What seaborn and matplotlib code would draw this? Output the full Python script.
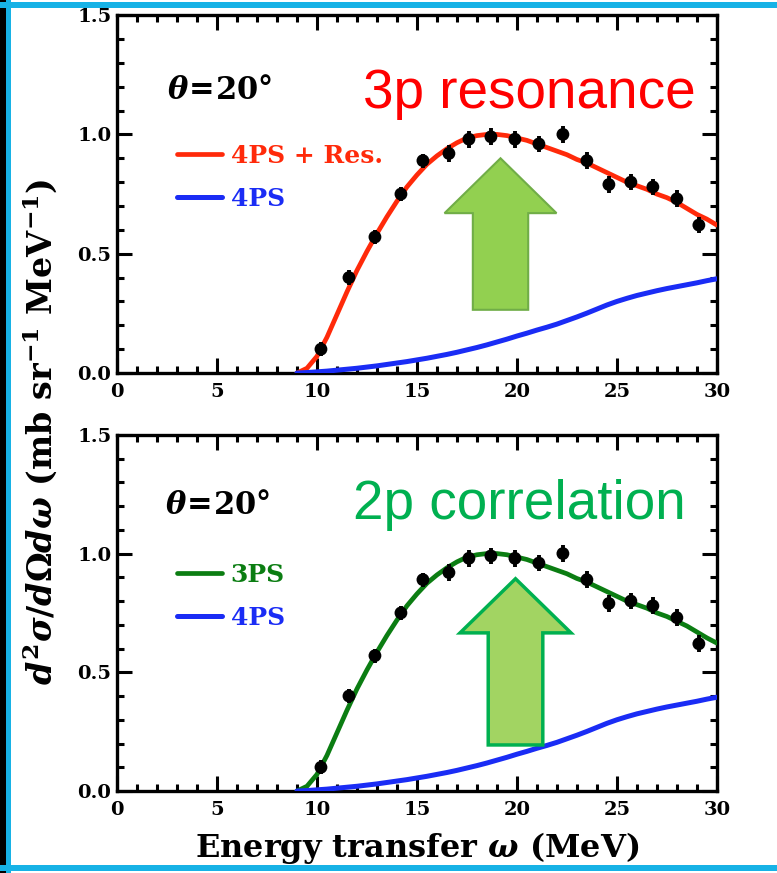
import matplotlib
matplotlib.use("Agg")
import matplotlib.pyplot as plt
import seaborn as sns
import pandas as pd
from matplotlib.patches import FancyArrow, Rectangle
from matplotlib.ticker import MultipleLocator

# measured cross section (same data set in both panels)
omega_exp = [10.2, 11.6, 12.9, 14.2, 15.3, 16.6, 17.6, 18.7, 19.9, 21.1,
             22.3, 23.5, 24.6, 25.7, 26.8, 28.0, 29.1]
xsec_exp = [0.10, 0.40, 0.57, 0.75, 0.89, 0.92, 0.98, 0.99, 0.98, 0.96,
            1.00, 0.89, 0.79, 0.80, 0.78, 0.73, 0.62]
xsec_err = [0.03, 0.03, 0.03, 0.03, 0.03, 0.035, 0.035, 0.035, 0.035, 0.035,
            0.035, 0.035, 0.035, 0.035, 0.035, 0.035, 0.035]

# calculations
omega_calc = [9.0, 9.5, 10.0, 10.5, 11.0, 11.5, 12.0, 12.5, 13.0, 13.5,
              14.0, 14.5, 15.0, 15.5, 16.0, 16.5, 17.0, 17.5, 18.0, 18.5,
              19.0, 19.5, 20.0, 20.5, 21.0, 21.5, 22.0, 22.5, 23.0, 23.5,
              24.0, 24.5, 25.0, 25.5, 26.0, 26.5, 27.0, 27.5, 28.0, 28.5,
              29.0, 29.5, 30.0]
calc_4ps_res = [0.0, 0.02, 0.07, 0.15, 0.245, 0.34, 0.43, 0.51, 0.585, 0.655,
                0.72, 0.78, 0.83, 0.875, 0.91, 0.94, 0.965, 0.985, 0.995, 1.0,
                1.0, 0.995, 0.985, 0.975, 0.96, 0.945, 0.93, 0.915, 0.895, 0.88,
                0.86, 0.84, 0.82, 0.80, 0.785, 0.77, 0.75, 0.735, 0.715, 0.69,
                0.665, 0.645, 0.62]
calc_3ps = [0.0, 0.02, 0.07, 0.15, 0.245, 0.34, 0.43, 0.51, 0.585, 0.655,
            0.72, 0.78, 0.83, 0.875, 0.91, 0.94, 0.965, 0.985, 0.995, 1.0,
            1.0, 0.995, 0.985, 0.975, 0.96, 0.945, 0.93, 0.915, 0.895, 0.88,
            0.86, 0.84, 0.82, 0.80, 0.785, 0.77, 0.75, 0.735, 0.715, 0.695,
            0.67, 0.645, 0.623]
calc_4ps = [0.0, 0.002, 0.005, 0.008, 0.012, 0.016, 0.02, 0.025, 0.03, 0.036,
            0.042, 0.048, 0.055, 0.062, 0.07, 0.078, 0.087, 0.097, 0.107, 0.118,
            0.13, 0.142, 0.155, 0.167, 0.18, 0.192, 0.205, 0.22, 0.235, 0.251,
            0.268, 0.285, 0.30, 0.313, 0.325, 0.335, 0.345, 0.354, 0.362, 0.37,
            0.378, 0.387, 0.395]

x_ticks = [0, 5, 10, 15, 20, 25, 30]
y_ticks = [0.0, 0.5, 1.0, 1.5]

sns.set_theme(style="ticks")
plt.rcParams["font.family"] = ["DejaVu Serif"]
plt.rcParams["font.weight"] = "bold"
plt.rcParams["text.color"] = "black"
plt.rcParams["axes.labelcolor"] = "black"
plt.rcParams["axes.labelweight"] = "bold"
plt.rcParams["mathtext.fontset"] = "custom"
plt.rcParams["mathtext.rm"] = "DejaVu Serif:bold"
plt.rcParams["mathtext.it"] = "DejaVu Serif:italic:bold"
plt.rcParams["mathtext.bf"] = "DejaVu Serif:bold"

fig = plt.figure(figsize=(7.77, 8.73), dpi=100)
ax_top = fig.add_axes([0.1506, 0.5727, 0.772, 0.410])
ax_bot = fig.add_axes([0.1506, 0.0939, 0.772, 0.408])

panels = [
    dict(ax=ax_top, curve=calc_4ps_res, label="4PS + Res.", color="#ff2a0a",
         tag="3p resonance", tag_color="#ff0000", tag_pos=(0.41, 0.741),
         theta_pos=(0.083, 0.79),
         arrow=dict(x=19.18, y=0.265, dy=0.635, width=2.77, head_width=5.6,
                    head_length=0.23, fc="#92d050", ec="#70ad47", lw=1.5)),
    dict(ax=ax_bot, curve=calc_3ps, label="3PS", color="#0b7d12",
         tag="2p correlation", tag_color="#00b050", tag_pos=(0.393, 0.764),
         theta_pos=(0.08, 0.803),
         arrow=dict(x=19.93, y=0.194, dy=0.70, width=2.73, head_width=5.55,
                    head_length=0.228, fc="#a2d462", ec="#00b050", lw=2.5)),
]

for p in panels:
    ax = p["ax"]
    sns.lineplot(x=omega_calc, y=p["curve"], color=p["color"], lw=3.4,
                 label=p["label"], ax=ax, zorder=3)
    sns.lineplot(x=omega_calc, y=calc_4ps, color="#1a2cf5", lw=3.6,
                 label="4PS", ax=ax, zorder=3)
    ax.errorbar(omega_exp, xsec_exp, yerr=xsec_err, fmt="none", ecolor="black",
                elinewidth=2.8, capsize=0, zorder=4)
    sns.scatterplot(x=omega_exp, y=xsec_exp, color="black", s=85,
                    edgecolor="none", ax=ax, zorder=5, legend=False)

    a = p["arrow"]
    ax.add_patch(FancyArrow(a["x"], a["y"], 0, a["dy"], width=a["width"],
                            head_width=a["head_width"], head_length=a["head_length"],
                            length_includes_head=True, fc=a["fc"], ec=a["ec"],
                            lw=a["lw"], zorder=3.5))

    ax.text(p["tag_pos"][0], p["tag_pos"][1], p["tag"], transform=ax.transAxes,
            family="Liberation Sans", weight="normal", fontsize=39.5,
            color=p["tag_color"], ha="left", va="baseline")
    ax.text(p["theta_pos"][0], p["theta_pos"][1], r"$\theta\!=\!20$°",
            transform=ax.transAxes, fontsize=22, color="black",
            ha="left", va="center")

    leg = ax.legend(loc="upper left", bbox_to_anchor=(0.1, 0.64), frameon=False,
                    handlelength=1.8, handletextpad=0.35, labelspacing=0.76,
                    borderpad=0, borderaxespad=0, labelcolor="linecolor",
                    prop=dict(family="DejaVu Serif", weight="bold", size=18))

    ax.set_xlim(0, 30)
    ax.set_ylim(0, 1.5)
    ax.set_xticks(x_ticks)
    ax.set_yticks(y_ticks)
    ax.set_xticklabels([str(t) for t in x_ticks])
    ax.set_yticklabels([f"{t:.1f}" for t in y_ticks])
    ax.xaxis.set_minor_locator(MultipleLocator(1))
    ax.yaxis.set_minor_locator(MultipleLocator(0.1))
    ax.tick_params(which="both", direction="in", top=True, right=True,
                   width=2.2, colors="black", labelsize=14)
    ax.tick_params(which="major", length=10.5)
    ax.tick_params(which="minor", length=5)
    ax.tick_params(axis="x", pad=7)
    ax.tick_params(axis="y", pad=4)
    for s in ax.spines.values():
        s.set_linewidth(2.4)
        s.set_color("black")
    ax.set_xlabel("")
    ax.set_ylabel("")

ax_bot.set_xlabel("Energy transfer $\\omega$ (MeV)", fontsize=23,
                  fontweight="bold", color="black", labelpad=8)

fig.text(40 / 777, 1 - 432 / 873,
         r"$d^{2}\sigma/d\Omega d\omega$ (mb sr$^{-1}$ MeV$^{-1}$)",
         rotation=90, ha="center", va="center", fontsize=24, color="black")

# frame of the slide
fig.patches.append(Rectangle((0, 0), 6 / 777, 1, transform=fig.transFigure,
                             fc="black", ec="none"))
fig.patches.append(Rectangle((6 / 777, 0), 5 / 777, 1, transform=fig.transFigure,
                             fc="#17b2e6", ec="none"))
fig.patches.append(Rectangle((0, 1 - 8 / 873), 1, 6 / 873, transform=fig.transFigure,
                             fc="#17b2e6", ec="none"))
fig.patches.append(Rectangle((0, 2 / 873), 1, 6 / 873, transform=fig.transFigure,
                             fc="#17b2e6", ec="none"))

fig.savefig("out.png", dpi=100, facecolor="white")
